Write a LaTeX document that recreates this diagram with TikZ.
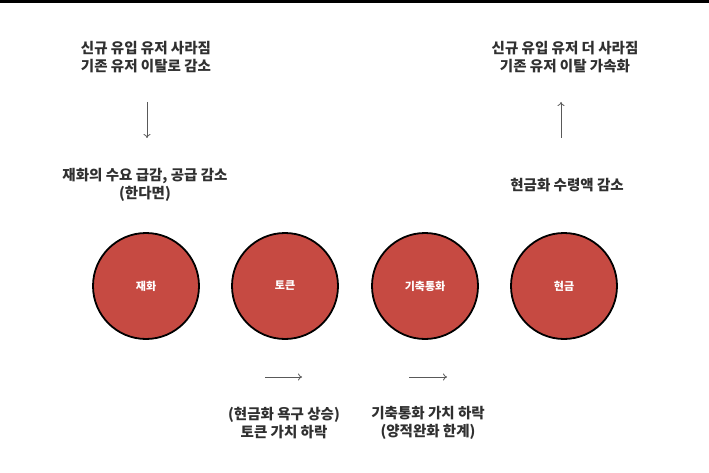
\documentclass[tikz,border=0pt]{standalone}
\usepackage{fontspec}
\newfontfamily\kr{Noto Sans CJK KR}
\usetikzlibrary{arrows.meta}
\definecolor{circred}{HTML}{C64A42}
\definecolor{txt}{HTML}{303030}
\tikzset{
  stage/.style={circle, draw=black, line width=1.8pt, fill=circred, minimum size=106pt, inner sep=0pt,
    font=\kr\bfseries\fontsize{11}{12}\selectfont, text=white},
  label/.style={font=\kr\bfseries\fontsize{14.5}{18}\selectfont, text=txt, align=center, inner sep=0pt},
  flow/.style={draw=txt!80, line width=0.8pt, -{To[length=4pt,width=7pt]}}
}
\begin{document}
\begin{tikzpicture}[x=1pt,y=-1pt]
\useasboundingbox (0,0) rectangle (709,473);
\fill[white] (0,0) rectangle (709,473);
\draw[line width=3pt] (0,1.5) -- (709,1.5);

\node[stage] (c1) at (146,286) {재화};
\node[stage] (c2) at (285,286) {토큰};
\node[stage] (c3) at (425,286) {기축통화};
\node[stage] (c4) at (564,286) {현금};

\node[label] (t1) at (146,57) {신규 유입 유저 사라짐\\기존 유저 이탈로 감소};
\node[label] (m1) at (145,185) {재화의 수요 급감, 공급 감소\\(한다면)};
\node[label] (t4) at (565,57) {신규 유입 유저 더 사라짐\\기존 유저 이탈 가속화};
\node[label] (m4) at (567,185) {현금화 수령액 감소};
\node[label] (b2) at (284,423) {(현금화 욕구 상승)\\토큰 가치 하락};
\node[label] (b3) at (428,423) {기축통화 가치 하락\\(양적완화 한계)};

\coordinate (d1s) at (147,102);
\coordinate (d1e) at (147,138);
\draw[flow] (d1s) -- (d1e);
\coordinate (u4s) at (561,138);
\coordinate (u4e) at (561,102);
\draw[flow] (u4s) -- (u4e);
\coordinate (a2s) at (265,377);
\coordinate (a2e) at (302,377);
\draw[flow] (a2s) -- (a2e);
\coordinate (a3s) at (409,377);
\coordinate (a3e) at (447,377);
\draw[flow] (a3s) -- (a3e);
\end{tikzpicture}
\end{document}
